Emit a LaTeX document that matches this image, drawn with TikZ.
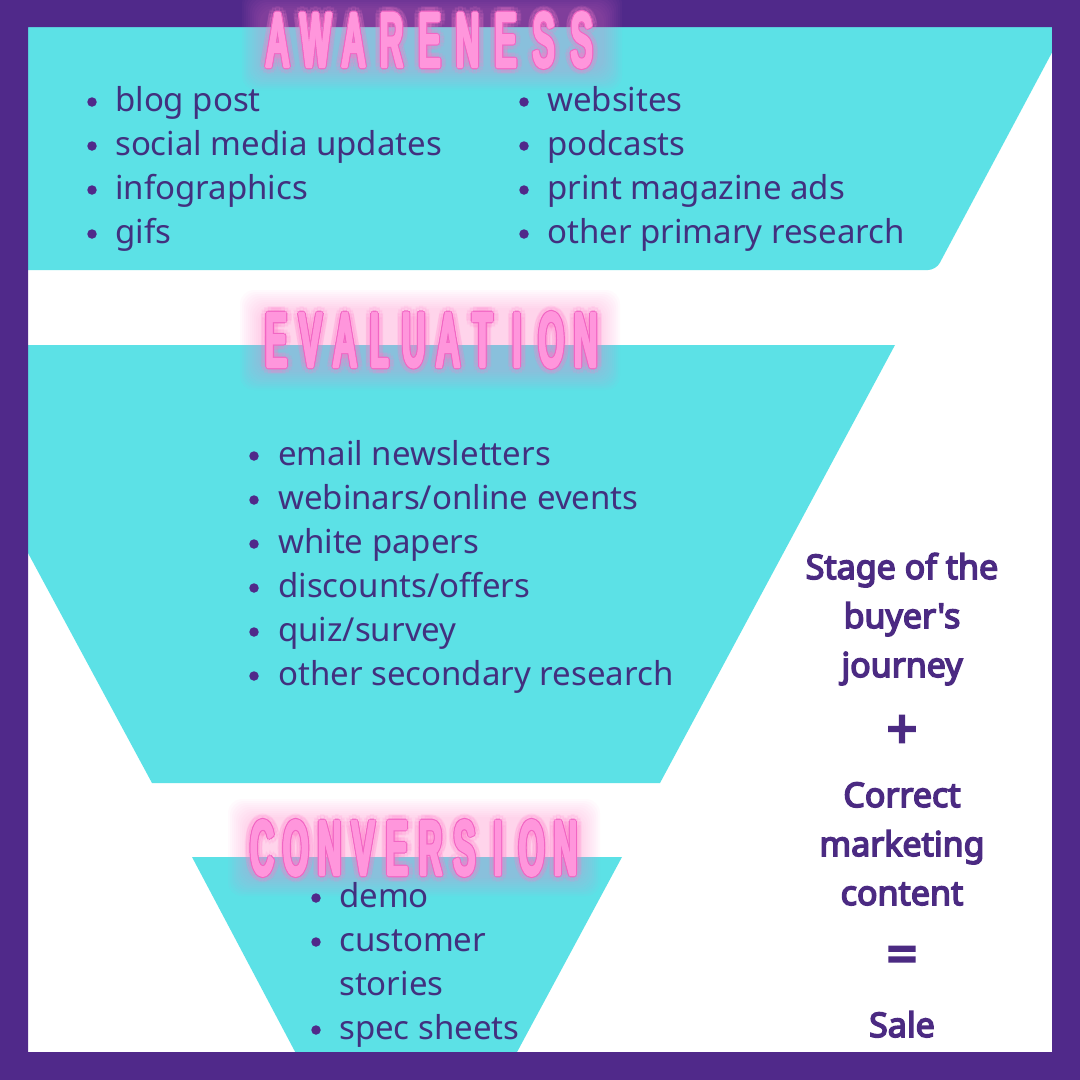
\documentclass[tikz,border=0pt]{standalone}
\usepackage{fontspec}
\usepackage{graphicx}
\setmainfont{Noto Sans}[AutoFakeBold=3]
\newfontfamily\rtfont{Noto Sans}[AutoFakeBold=4.5]
\newfontfamily\ttlfont{Liberation Sans}[AutoFakeBold=3]
\definecolor{border}{HTML}{50298A}
\definecolor{cyanf}{HTML}{5CE1E6}
\definecolor{txt}{HTML}{42307F}
\definecolor{rtxt}{HTML}{4B2A82}
\definecolor{neonfill}{HTML}{FF96DC}
\definecolor{neonedge}{HTML}{F266C4}
\definecolor{neonglow}{HTML}{FF80D0}
\tikzset{
  bodytxt/.style={font=\fontsize{33}{40}\selectfont, text=txt, anchor=base west, inner sep=0},
  bulletdot/.style={circle, fill=border, inner sep=0, minimum size=9.5},
  righttxt/.style={font=\rtfont\bfseries\fontsize{34}{40}\selectfont, text=rtxt, anchor=base, inner sep=0},
  bigsym/.style={font=\rtfont\bfseries\fontsize{54}{54}\selectfont, text=rtxt, inner sep=0},
  neontxt/.style={font=\ttlfont\bfseries\fontsize{75}{75}\selectfont, inner sep=0},
  glowbox/.style={fill=neonglow, fill opacity=0.035, rounded corners=14}
}
% #1 name prefix, #2 first center x, #3 pitch, #4 center y, #5 letters
\newcommand\neonword[5]{%
  \foreach \l [count=\i from 0] in {#5} {
    \pgfmathsetmacro\cx{#2+#3*\i}
    \foreach \a in {0,30,...,330} {
      \node[neontxt, text=neonglow, text opacity=0.10] at ({\cx+7*cos(\a)},{#4+7*sin(\a)}) {\scalebox{0.42}[1]{\l}};
    }
    \foreach \a in {0,45,...,315} {
      \node[neontxt, text=neonedge] at ({\cx+2.4*cos(\a)},{#4+2.4*sin(\a)}) {\scalebox{0.42}[1]{\l}};
    }
    \foreach \a in {0,45,...,315} {
      \node[neontxt, text=neonfill] at ({\cx+1.2*cos(\a)},{#4+1.2*sin(\a)}) {\scalebox{0.42}[1]{\l}};
    }
    \node[neontxt, text=neonfill] (#1\i) at (\cx,#4) {\scalebox{0.42}[1]{\l}};
  }}
\begin{document}
\begin{tikzpicture}[x=1pt,y=-1pt]
\useasboundingbox (0,0) rectangle (1080,1080);
\fill[white] (0,0) rectangle (1080,1080);
% funnel bands
\fill[cyanf, rounded corners=8] (0,0) -- (1080,0) -- (936,270) -- (0,270) -- cycle;
\fill[cyanf] (0,345) -- (895,345) -- (660,783) -- (152,783) -- (28,553) -- (0,553) -- cycle;
\fill[cyanf] (192,857) -- (622,857) -- (502,1080) -- (310,1080) -- cycle;
% frame
\fill[border, even odd rule] (0,0) rectangle (1080,1080) (28,27) rectangle (1052,1052);
% glow halos
\foreach \p in {2,4,...,20} {
  \fill[glowbox] (262-\p,10-\p) rectangle (602+\p,70+\p);
  \fill[glowbox] (260-\p,310-\p) rectangle (600+\p,370+\p);
  \fill[glowbox] (248-\p,819-\p) rectangle (580+\p,876+\p);
}
% titles
\neonword{aw}{277.5}{38}{40}{A,W,A,R,E,N,E,S,S}
\neonword{ev}{276}{34.4}{340}{E,V,A,L,U,A,T,I,O,N}
\neonword{co}{262}{33.7}{848}{C,O,N,V,E,R,S,I,O,N}
% awareness items
\foreach \t [count=\i from 0] in {blog post,social media updates,infographics,gifs} {
  \node[bulletdot] (awlb\i) at (92,{111+44*\i-9}) {};
  \node[bodytxt] (awl\i) at (115,{111+44*\i}) {\t};
}
\foreach \t [count=\i from 0] in {websites,podcasts,print magazine ads,other primary research} {
  \node[bulletdot] (awrb\i) at (524,{111+44*\i-9}) {};
  \node[bodytxt] (awr\i) at (547,{111+44*\i}) {\t};
}
% evaluation items
\foreach \t [count=\i from 0] in {email newsletters,webinars/online events,white papers,discounts/offers,quiz/survey,other secondary research} {
  \node[bulletdot] (evb\i) at (254,{465+44*\i-9}) {};
  \node[bodytxt] (evt\i) at (278,{465+44*\i}) {\t};
}
% conversion items
\node[bulletdot] (cob0) at (316,898) {};
\node[bodytxt] (cot0) at (339,907) {demo};
\node[bulletdot] (cob1) at (316,942) {};
\node[bodytxt] (cot1) at (339,951) {customer};
\node[bodytxt] (cot2) at (339,995) {stories};
\node[bulletdot] (cob3) at (316,1030) {};
\node[bodytxt] (cot3) at (339,1039) {spec sheets};
% right equation
\node[righttxt] (r1) at (902,579) {Stage of the};
\node[righttxt] (r2) at (902,628) {buyer's};
\node[righttxt] (r3) at (902,677) {journey};
\node[bigsym] (plus) at (902,732) {+};
\node[righttxt] (r4) at (902,807) {Correct};
\node[righttxt] (r5) at (902,856) {marketing};
\node[righttxt] (r6) at (902,905) {content};
\node[bigsym] (eq) at (902,960) {=};
\node[righttxt] (r7) at (902,1037) {Sale};
\end{tikzpicture}
\end{document}
